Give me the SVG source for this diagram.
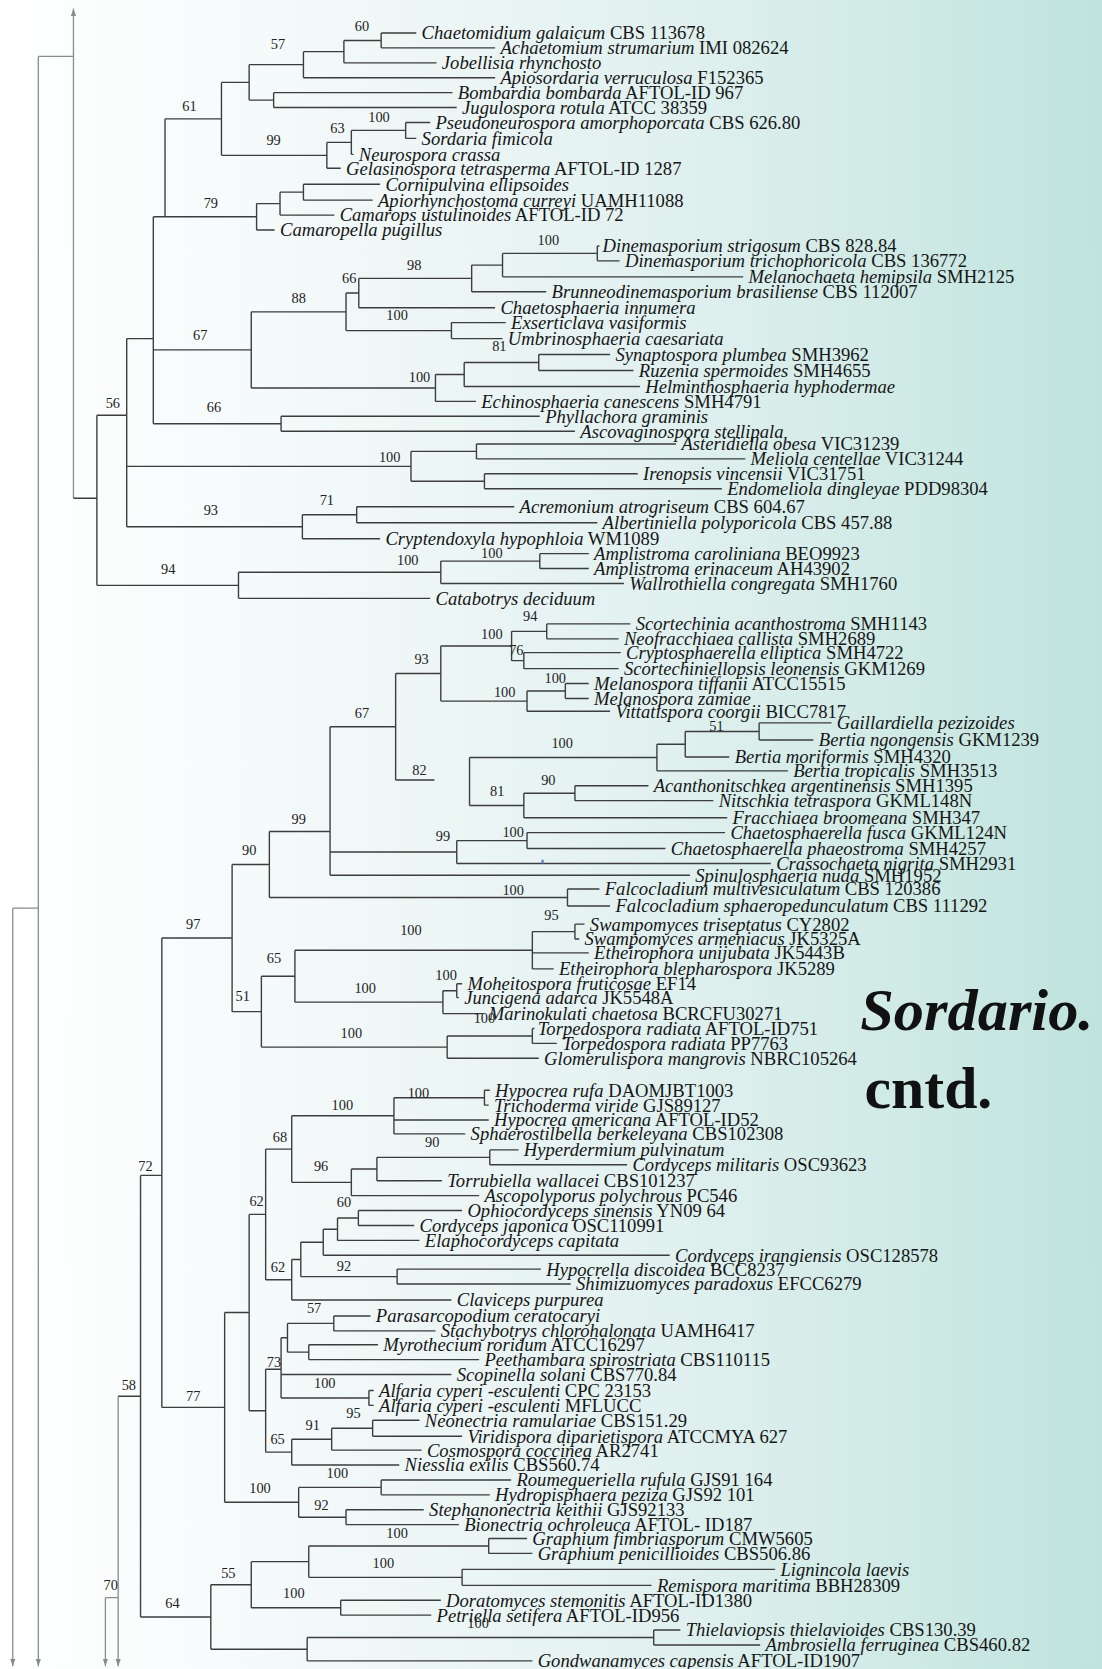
<svg xmlns="http://www.w3.org/2000/svg" width="1102" height="1669" viewBox="0 0 1102 1669">
<defs>
<linearGradient id="bg" x1="0" y1="0" x2="1" y2="0">
<stop offset="0" stop-color="#ffffff"/>
<stop offset="0.28" stop-color="#f3f9f9"/>
<stop offset="0.6" stop-color="#e1f1ef"/>
<stop offset="0.85" stop-color="#cde9e4"/>
<stop offset="1" stop-color="#bfe3dd"/>
</linearGradient>
<marker id="ah" viewBox="0 0 10 10" refX="10" refY="5" markerWidth="7" markerHeight="9" markerUnits="userSpaceOnUse" orient="auto">
<path d="M0,1.5 L10,5 L0,8.5 Z" fill="#8a8a8a"/>
</marker>
<style>
.br{fill:none;stroke:#3d3d3d;stroke-width:1.3}
.tr{fill:none;stroke:#8a8a8a;stroke-width:1.2}
.t{font-family:"Liberation Serif","Times New Roman",serif;font-size:17.5px;fill:#161616}
.i{font-style:italic}
.s{font-family:"Liberation Serif","Times New Roman",serif;font-size:13.5px;fill:#222;text-anchor:middle}
.big{font-family:"Liberation Serif","Times New Roman",serif;font-size:55px;font-weight:bold;fill:#111}
</style>
</defs>
<rect x="0" y="0" width="1102" height="1669" fill="url(#bg)"/>
<g transform="scale(1.0647)">
<g id="connectors">
<path class="tr" d="M69,468V8" marker-end="url(#ah)"/>
<path class="tr" d="M36,53H69M36,53V1565" marker-end="url(#ah)"/>
<path class="tr" d="M12,853H36M12,853V1565" marker-end="url(#ah)"/>
<path class="tr" d="M111,1311.4V1565" marker-end="url(#ah)"/>
<path class="tr" d="M99,1500.6H111M99,1500.6V1565" marker-end="url(#ah)"/>
<path class="br" d="M69,468H91M91,390V549.75M91,390H119M119,318V494.75M119,318H144M144,203.6V398M144,203.6H241M155,111.6V203.6
M155,111.6H208M208,77.4V145.9M208,77.4H234M234,60.75V94M234,60.75H285M285,48.5V73M285,48.5H323M323,38V59M323,38H358M358,31V45
M234,94H257M257,87V101M208,145.9H307M307,133.75V158M307,133.75H330M330,122.5V145M330,122.5H381M381,115V130
M241,191.25V216M241,191.25H263M263,180.5V202M263,180.5H285M285,173V188
M144,328.6H236M236,292.9V364.4M236,292.9H325M325,275.25V310.5M325,275.25H337M337,261.5V289M337,261.5H443M443,249V274M443,249H472M472,238V260M472,238H561M561,231V245
M325,310.5H424M424,303V318M236,364.4H409M409,351.75V377M409,351.75H436M436,340.5V363M436,340.5H506M506,333V348
M144,398H264M264,391V405M119,438H386M386,424V452M386,424H447.5M447.5,417V431M386,452H455M455,445V459
M119,494.75H284M284,483.5V506M284,483.5H335M335,476V491M91,549.75H224M224,537.5V562M224,537.5H414M414,527V548M414,527H507M507,520V534"/>
<path class="br" d="M132,1104H152M152,881V1321.9M152,881H218M218,812V950.2M218,812H253M253,781V843M253,781H310M310,682.6V822
M310,682.6H371.6M371.6,632.6V732.6M371.6,732.6H408M371.6,632.6H414M414,606.75V658.5M414,606.75H480.5M480.5,593V620.5M480.5,593H513.5M513.5,586V600M480.5,620.5H492M492,613V628
M414,658.5H495M495,649V668M495,649H531M531,642V656
M441,711.5V756.5M441,711.5H617M617,699V724M617,699H643.6M643.6,687V711M643.6,687H713M713,679V695M441,756.5H492M492,745V768M492,745H540M540,738V752
M310,800.25H429M429,789.5V811M429,789.5H495M495,782V797M253,843H533M533,835V851
M218,950.2H245.5M245.5,916.9V983.5M245.5,916.9H277M277,892.5V941.25M277,892.5H500M500,875V910M500,875H540M540,868V882
M277,941.25H416M416,930.5V952M416,930.5H429M429,924V937M245.5,983.5H420M420,973V994M420,973H500M500,966V980"/>
<path class="br" d="M152,1321.9H211M211,1232.8V1411M211,1232.8H234M234,1140.6V1325M234,1140.6H249.5M249.5,1079.25V1202
M249.5,1079.25H274M274,1048V1110.5M274,1048H370M370,1031V1065M370,1031H455M455,1024V1038M274,1110.5H330M330,1098V1123M330,1098H354M354,1087V1109M354,1087H460M460,1080V1094
M249.5,1202H274M274,1182.9V1221M274,1182.9H282.5M282.5,1166.75V1199M282.5,1166.75H303.6M303.6,1154.5V1179M303.6,1154.5H317M317,1144V1165M317,1144H336.6M336.6,1137V1151M282.5,1199H373M373,1192V1206
M234,1325H249.5M249.5,1286V1363.9M249.5,1286H264M264,1256.5V1313M264,1256.5H270M270,1243V1270M270,1243H313.5M313.5,1236V1250M270,1270H290M290,1263V1277M264,1313H346.5M346.5,1306V1320
M249.5,1363.9H274M274,1351.75V1376M274,1351.75H311.5M311.5,1341.5V1362M311.5,1341.5H350M350,1334V1349
M211,1411H280.5M280.5,1397V1425M280.5,1397H358M358,1390V1404M280.5,1425H325M325,1418V1432
M111,1311.4H132M132,1104V1518.7M132,1518.7H198M198,1488.4V1549M198,1488.4H236M236,1466.75V1510M236,1466.75H290M290,1452V1481.5M290,1452H459M459,1445V1459M290,1481.5H434M434,1474V1489M236,1510H320M320,1503V1517M198,1549H288.5M288.5,1538V1560M288.5,1538H614M614,1531V1545"/>
<path class="br" d="M358,31H391M358,45H465M323,59H410M285,73H465M257,87H425M257,101H429M381,115H404M381,130H391M330,145H332M307,158H320M285,173H357M285,188H350M263,202H314M241,216H258
M561,231H563M561,245H582M472,260H698M443,274H513M337,289H465M424,303H475M424,318H472M506,333H573M506,348H595M436,363H601M409,377H447M264,391H507M264,405H540
M447.5,417H635M447.5,431H700M455,445H599M455,459H678M335,476H483M335,491H561M284,506H357M507,520H553M507,534H553M414,548H586M224,562H404
M513.5,586H592M513.5,600H581M492,613H583M492,628H581M531,642H553M531,656H553M495,668H573M713,679H781M713,695H764M643.6,711H685M617,724H740M540,738H609M540,752H670M492,768H683
M495,782H681M495,797H625M429,811H724M310,822H648M533,835H563M533,851H573M540,868H549M540,882H544M500,895H553M500,910H520M429,924H434M429,937H431M416,952H454M500,966H502M500,980H523M420,994H506
M455,1024H460M455,1038H459M370,1052H459M370,1065H437M460,1080H487M460,1094H589M354,1109H415M330,1123H450M336.6,1137H434M336.6,1151H389M317,1165H394M303.6,1179H629M373,1192H508M373,1206H536M274,1221H424
M313.5,1236H348M313.5,1250H409M290,1263H355M290,1277H450M264,1291H424M346.5,1306H351M346.5,1320H351M350,1334H394M350,1349H434M311.5,1362H396M274,1376H375M358,1390H480M358,1404H460M325,1418H398M325,1432H431
M459,1445H495M459,1459H500M434,1474H728M434,1489H612M320,1503H414M320,1517H405M614,1531H639M614,1545H714M288.5,1560H500"/>
<rect x="508.5" y="807.5" width="2.2" height="3.5" fill="#5b7fd6"/>
</g>
<g id="leaves">
<g id="n1"><text class="t" x="396" y="37"><tspan class="i">Chaetomidium galaicum</tspan> CBS 113678</text></g>
<g id="n2"><text class="t" x="470" y="51"><tspan class="i">Achaetomium strumarium</tspan> IMI 082624</text></g>
<g id="n3"><text class="t" x="415" y="65"><tspan class="i">Jobellisia rhynchosto</tspan></text></g>
<g id="n4"><text class="t" x="470" y="79"><tspan class="i">Apiosordaria verruculosa</tspan> F152365</text></g>
<g id="n5"><text class="t" x="430" y="93"><tspan class="i">Bombardia bombarda</tspan> AFTOL-ID 967</text></g>
<g id="n6"><text class="t" x="434" y="107"><tspan class="i">Jugulospora rotula</tspan> ATCC 38359</text></g>
<g id="n7"><text class="t" x="409" y="121"><tspan class="i">Pseudoneurospora amorphoporcata</tspan> CBS 626.80</text></g>
<g id="n8"><text class="t" x="396" y="136"><tspan class="i">Sordaria fimicola</tspan></text></g>
<g id="n9"><text class="t" x="337" y="151"><tspan class="i">Neurospora crassa</tspan></text></g>
<g id="n10"><text class="t" x="325" y="164"><tspan class="i">Gelasinospora tetrasperma</tspan> AFTOL-ID 1287</text></g>
<g id="n11"><text class="t" x="362" y="179"><tspan class="i">Cornipulvina ellipsoides</tspan></text></g>
<g id="n12"><text class="t" x="355" y="194"><tspan class="i">Apiorhynchostoma curreyi</tspan> UAMH11088</text></g>
<g id="n13"><text class="t" x="319" y="208"><tspan class="i">Camarops ustulinoides</tspan> AFTOL-ID 72</text></g>
<g id="n14"><text class="t" x="263" y="222"><tspan class="i">Camaropella pugillus</tspan></text></g>
<g id="n15"><text class="t" x="566" y="237"><tspan class="i">Dinemasporium strigosum</tspan> CBS 828.84</text></g>
<g id="n16"><text class="t" x="587" y="251"><tspan class="i">Dinemasporium trichophoricola</tspan> CBS 136772</text></g>
<g id="n17"><text class="t" x="703" y="266"><tspan class="i">Melanochaeta hemipsila</tspan> SMH2125</text></g>
<g id="n18"><text class="t" x="518" y="280"><tspan class="i">Brunneodinemasporium brasiliense</tspan> CBS 112007</text></g>
<g id="n19"><text class="t" x="470" y="295"><tspan class="i">Chaetosphaeria innumera</tspan></text></g>
<g id="n20"><text class="t" x="480" y="309"><tspan class="i">Exserticlava vasiformis</tspan></text></g>
<g id="n21"><text class="t" x="477" y="324"><tspan class="i">Umbrinosphaeria caesariata</tspan></text></g>
<g id="n22"><text class="t" x="578" y="339"><tspan class="i">Synaptospora plumbea</tspan> SMH3962</text></g>
<g id="n23"><text class="t" x="600" y="354"><tspan class="i">Ruzenia spermoides</tspan> SMH4655</text></g>
<g id="n24"><text class="t" x="606" y="369"><tspan class="i">Helminthosphaeria hyphodermae</tspan></text></g>
<g id="n25"><text class="t" x="452" y="383"><tspan class="i">Echinosphaeria canescens</tspan> SMH4791</text></g>
<g id="n26"><text class="t" x="512" y="397"><tspan class="i">Phyllachora graminis</tspan></text></g>
<g id="n27"><text class="t" x="545" y="411"><tspan class="i">Ascovaginospora stellipala</tspan></text></g>
<g id="n28"><text class="t" x="640" y="423"><tspan class="i">Asteridiella obesa</tspan> VIC31239</text></g>
<g id="n29"><text class="t" x="705" y="437"><tspan class="i">Meliola centellae</tspan> VIC31244</text></g>
<g id="n30"><text class="t" x="604" y="451"><tspan class="i">Irenopsis vincensii</tspan> VIC31751</text></g>
<g id="n31"><text class="t" x="683" y="465"><tspan class="i">Endomeliola dingleyae</tspan> PDD98304</text></g>
<g id="n32"><text class="t" x="488" y="482"><tspan class="i">Acremonium atrogriseum</tspan> CBS 604.67</text></g>
<g id="n33"><text class="t" x="566" y="497"><tspan class="i">Albertiniella polyporicola</tspan> CBS 457.88</text></g>
<g id="n34"><text class="t" x="362" y="512"><tspan class="i">Cryptendoxyla hypophloia</tspan> WM1089</text></g>
<g id="n35"><text class="t" x="558" y="526"><tspan class="i">Amplistroma caroliniana</tspan> BEO9923</text></g>
<g id="n36"><text class="t" x="558" y="540"><tspan class="i">Amplistroma erinaceum</tspan> AH43902</text></g>
<g id="n37"><text class="t" x="591" y="554"><tspan class="i">Wallrothiella congregata</tspan> SMH1760</text></g>
<g id="n38"><text class="t" x="409" y="568"><tspan class="i">Catabotrys deciduum</tspan></text></g>
<g id="n39"><text class="t" x="597" y="592"><tspan class="i">Scortechinia acanthostroma</tspan> SMH1143</text></g>
<g id="n40"><text class="t" x="586" y="606"><tspan class="i">Neofracchiaea callista</tspan> SMH2689</text></g>
<g id="n41"><text class="t" x="588" y="619"><tspan class="i">Cryptosphaerella elliptica</tspan> SMH4722</text></g>
<g id="n42"><text class="t" x="586" y="634"><tspan class="i">Scortechiniellopsis leonensis</tspan> GKM1269</text></g>
<g id="n43"><text class="t" x="558" y="648"><tspan class="i">Melanospora tiffanii</tspan> ATCC15515</text></g>
<g id="n44"><text class="t" x="558" y="662"><tspan class="i">Melanospora zamiae</tspan></text></g>
<g id="n45"><text class="t" x="578" y="674"><tspan class="i">Vittatispora coorgii</tspan> BICC7817</text></g>
<g id="n46"><text class="t" x="786" y="685"><tspan class="i">Gaillardiella pezizoides</tspan></text></g>
<g id="n47"><text class="t" x="769" y="701"><tspan class="i">Bertia ngongensis</tspan> GKM1239</text></g>
<g id="n48"><text class="t" x="690" y="717"><tspan class="i">Bertia moriformis</tspan> SMH4320</text></g>
<g id="n49"><text class="t" x="745" y="730"><tspan class="i">Bertia tropicalis</tspan> SMH3513</text></g>
<g id="n50"><text class="t" x="614" y="744"><tspan class="i">Acanthonitschkea argentinensis</tspan> SMH1395</text></g>
<g id="n51"><text class="t" x="675" y="758"><tspan class="i">Nitschkia tetraspora</tspan> GKML148N</text></g>
<g id="n52"><text class="t" x="688" y="774"><tspan class="i">Fracchiaea broomeana</tspan> SMH347</text></g>
<g id="n53"><text class="t" x="686" y="788"><tspan class="i">Chaetosphaerella fusca</tspan> GKML124N</text></g>
<g id="n54"><text class="t" x="630" y="803"><tspan class="i">Chaetosphaerella phaeostroma</tspan> SMH4257</text></g>
<g id="n55"><text class="t" x="729" y="817"><tspan class="i">Crassochaeta nigrita</tspan> SMH2931</text></g>
<g id="n56"><text class="t" x="653" y="828"><tspan class="i">Spinulosphaeria nuda</tspan> SMH1952</text></g>
<g id="n57"><text class="t" x="568" y="841"><tspan class="i">Falcocladium multivesiculatum</tspan> CBS 120386</text></g>
<g id="n58"><text class="t" x="578" y="857"><tspan class="i">Falcocladium sphaeropedunculatum</tspan> CBS 111292</text></g>
<g id="n59"><text class="t" x="554" y="874"><tspan class="i">Swampomyces triseptatus</tspan> CY2802</text></g>
<g id="n60"><text class="t" x="549" y="888"><tspan class="i">Swampomyces armeniacus</tspan> JK5325A</text></g>
<g id="n61"><text class="t" x="558" y="901"><tspan class="i">Etheirophora unijubata</tspan>  JK5443B</text></g>
<g id="n62"><text class="t" x="525" y="916"><tspan class="i">Etheirophora blepharospora</tspan> JK5289</text></g>
<g id="n63"><text class="t" x="439" y="930"><tspan class="i">Moheitospora fruticosae</tspan> EF14</text></g>
<g id="n64"><text class="t" x="436" y="943"><tspan class="i">Juncigena adarca</tspan> JK5548A</text></g>
<g id="n65"><text class="t" x="459" y="958"><tspan class="i">Marinokulati chaetosa</tspan> BCRCFU30271</text></g>
<g id="n66"><text class="t" x="505" y="972"><tspan class="i">Torpedospora radiata</tspan> AFTOL-ID751</text></g>
<g id="n67"><text class="t" x="528" y="986"><tspan class="i">Torpedospora radiata</tspan> PP7763</text></g>
<g id="n68"><text class="t" x="511" y="1000"><tspan class="i">Glomerulispora mangrovis</tspan> NBRC105264</text></g>
<g id="n69"><text class="t" x="465" y="1030"><tspan class="i">Hypocrea rufa</tspan> DAOMJBT1003</text></g>
<g id="n70"><text class="t" x="464" y="1044"><tspan class="i">Trichoderma viride</tspan> GJS89127</text></g>
<g id="n71"><text class="t" x="464" y="1058"><tspan class="i">Hypocrea americana</tspan> AFTOL-ID52</text></g>
<g id="n72"><text class="t" x="442" y="1071"><tspan class="i">Sphaerostilbella berkeleyana</tspan> CBS102308</text></g>
<g id="n73"><text class="t" x="492" y="1086"><tspan class="i">Hyperdermium pulvinatum</tspan></text></g>
<g id="n74"><text class="t" x="594" y="1100"><tspan class="i">Cordyceps militaris</tspan> OSC93623</text></g>
<g id="n75"><text class="t" x="420" y="1115"><tspan class="i">Torrubiella wallacei</tspan> CBS101237</text></g>
<g id="n76"><text class="t" x="455" y="1129"><tspan class="i">Ascopolyporus polychrous</tspan> PC546</text></g>
<g id="n77"><text class="t" x="439" y="1143"><tspan class="i">Ophiocordyceps sinensis</tspan> YN09 64</text></g>
<g id="n78"><text class="t" x="394" y="1157"><tspan class="i">Cordyceps japonica</tspan> OSC110991</text></g>
<g id="n79"><text class="t" x="399" y="1171"><tspan class="i">Elaphocordyceps capitata</tspan></text></g>
<g id="n80"><text class="t" x="634" y="1185"><tspan class="i">Cordyceps irangiensis</tspan> OSC128578</text></g>
<g id="n81"><text class="t" x="513" y="1198"><tspan class="i">Hypocrella discoidea</tspan> BCC8237</text></g>
<g id="n82"><text class="t" x="541" y="1212"><tspan class="i">Shimizuomyces paradoxus</tspan> EFCC6279</text></g>
<g id="n83"><text class="t" x="429" y="1227"><tspan class="i">Claviceps purpurea</tspan></text></g>
<g id="n84"><text class="t" x="353" y="1242"><tspan class="i">Parasarcopodium ceratocaryi</tspan></text></g>
<g id="n85"><text class="t" x="414" y="1256"><tspan class="i">Stachybotrys chlorohalonata</tspan> UAMH6417</text></g>
<g id="n86"><text class="t" x="360" y="1269"><tspan class="i">Myrothecium roridum</tspan> ATCC16297</text></g>
<g id="n87"><text class="t" x="455" y="1283"><tspan class="i">Peethambara spirostriata</tspan> CBS110115</text></g>
<g id="n88"><text class="t" x="429" y="1297"><tspan class="i">Scopinella solani</tspan> CBS770.84</text></g>
<g id="n89"><text class="t" x="356" y="1312"><tspan class="i">Alfaria cyperi  -esculenti</tspan> CPC  23153</text></g>
<g id="n90"><text class="t" x="356" y="1326"><tspan class="i">Alfaria cyperi  -esculenti</tspan> MFLUCC</text></g>
<g id="n91"><text class="t" x="399" y="1340"><tspan class="i">Neonectria ramulariae</tspan> CBS151.29</text></g>
<g id="n92"><text class="t" x="439" y="1355"><tspan class="i">Viridispora diparietispora</tspan> ATCCMYA 627</text></g>
<g id="n93"><text class="t" x="401" y="1368"><tspan class="i">Cosmospora coccinea</tspan> AR2741</text></g>
<g id="n94"><text class="t" x="380" y="1382"><tspan class="i">Niesslia exilis</tspan> CBS560.74</text></g>
<g id="n95"><text class="t" x="485" y="1396"><tspan class="i">Roumegueriella rufula</tspan> GJS91 164</text></g>
<g id="n96"><text class="t" x="465" y="1410"><tspan class="i">Hydropisphaera peziza</tspan> GJS92 101</text></g>
<g id="n97"><text class="t" x="403" y="1424"><tspan class="i">Stephanonectria keithii</tspan> GJS92133</text></g>
<g id="n98"><text class="t" x="436" y="1438"><tspan class="i">Bionectria ochroleuca</tspan> AFTOL- ID187</text></g>
<g id="n99"><text class="t" x="500" y="1451"><tspan class="i">Graphium fimbriasporum</tspan> CMW5605</text></g>
<g id="n100"><text class="t" x="505" y="1465"><tspan class="i">Graphium penicillioides</tspan> CBS506.86</text></g>
<g id="n101"><text class="t" x="733" y="1480"><tspan class="i">Lignincola laevis</tspan></text></g>
<g id="n102"><text class="t" x="617" y="1495"><tspan class="i">Remispora maritima</tspan> BBH28309</text></g>
<g id="n103"><text class="t" x="419" y="1509"><tspan class="i">Doratomyces stemonitis</tspan> AFTOL-ID1380</text></g>
<g id="n104"><text class="t" x="410" y="1523"><tspan class="i">Petriella setifera</tspan> AFTOL-ID956</text></g>
<g id="n105"><text class="t" x="644" y="1537"><tspan class="i">Thielaviopsis thielavioides</tspan> CBS130.39</text></g>
<g id="n106"><text class="t" x="719" y="1551"><tspan class="i">Ambrosiella ferruginea</tspan> CBS460.82</text></g>
<g id="n107"><text class="t" x="505" y="1566"><tspan class="i">Gondwanamyces capensis</tspan> AFTOL-ID1907</text></g>
</g>
<g id="supports">
<text class="s" x="340" y="29.5">60</text>
<text class="s" x="261" y="46">57</text>
<text class="s" x="178" y="104.5">61</text>
<text class="s" x="356" y="114.5">100</text>
<text class="s" x="317" y="125">63</text>
<text class="s" x="257" y="136">99</text>
<text class="s" x="198" y="195.5">79</text>
<text class="s" x="515" y="230">100</text>
<text class="s" x="389" y="253.5">98</text>
<text class="s" x="328" y="266">66</text>
<text class="s" x="280.5" y="284.5">88</text>
<text class="s" x="373" y="300.5">100</text>
<text class="s" x="188" y="319">67</text>
<text class="s" x="469" y="330">81</text>
<text class="s" x="394" y="358.5">100</text>
<text class="s" x="106" y="383.5">56</text>
<text class="s" x="201" y="386.5">66</text>
<text class="s" x="366" y="433.5">100</text>
<text class="s" x="307" y="474">71</text>
<text class="s" x="198" y="483.5">93</text>
<text class="s" x="462" y="524">100</text>
<text class="s" x="383" y="530.5">100</text>
<text class="s" x="158" y="539.5">94</text>
<text class="s" x="498" y="583.5">94</text>
<text class="s" x="462" y="600">100</text>
<text class="s" x="485" y="615.5">76</text>
<text class="s" x="396" y="623.5">93</text>
<text class="s" x="521.5" y="641.5">100</text>
<text class="s" x="474" y="655">100</text>
<text class="s" x="340" y="674">67</text>
<text class="s" x="673" y="686.5">51</text>
<text class="s" x="528" y="703">100</text>
<text class="s" x="394" y="728">82</text>
<text class="s" x="515" y="737">90</text>
<text class="s" x="467" y="748">81</text>
<text class="s" x="280.5" y="773.5">99</text>
<text class="s" x="482" y="786">100</text>
<text class="s" x="416" y="789.5">99</text>
<text class="s" x="234" y="803">90</text>
<text class="s" x="482" y="840.5">100</text>
<text class="s" x="518" y="864">95</text>
<text class="s" x="181.5" y="873">97</text>
<text class="s" x="386" y="878">100</text>
<text class="s" x="257.4" y="904.5">65</text>
<text class="s" x="419" y="920">100</text>
<text class="s" x="343" y="932.5">100</text>
<text class="s" x="228" y="940.5">51</text>
<text class="s" x="455" y="961">100</text>
<text class="s" x="330" y="975">100</text>
<text class="s" x="393" y="1031">100</text>
<text class="s" x="321.5" y="1043">100</text>
<text class="s" x="263" y="1072.5">68</text>
<text class="s" x="406" y="1077.5">90</text>
<text class="s" x="301.6" y="1100">96</text>
<text class="s" x="136.6" y="1100">72</text>
<text class="s" x="241" y="1133">62</text>
<text class="s" x="323" y="1134">60</text>
<text class="s" x="323" y="1194">92</text>
<text class="s" x="261" y="1194.5">62</text>
<text class="s" x="295" y="1233">57</text>
<text class="s" x="257.4" y="1284">73</text>
<text class="s" x="305" y="1303.5">100</text>
<text class="s" x="121" y="1306">58</text>
<text class="s" x="181.5" y="1315.5">77</text>
<text class="s" x="332" y="1332">95</text>
<text class="s" x="293.7" y="1343">91</text>
<text class="s" x="260.7" y="1356.5">65</text>
<text class="s" x="316.8" y="1388.5">100</text>
<text class="s" x="244.2" y="1402.5">100</text>
<text class="s" x="302" y="1418">92</text>
<text class="s" x="373" y="1444.5">100</text>
<text class="s" x="360" y="1472.5">100</text>
<text class="s" x="214.5" y="1482">55</text>
<text class="s" x="104" y="1493">70</text>
<text class="s" x="276" y="1501">100</text>
<text class="s" x="162" y="1510.5">64</text>
<text class="s" x="449" y="1529">100</text>
</g>
<g id="title">
<text class="big" x="808" y="967" font-style="italic" textLength="219" lengthAdjust="spacingAndGlyphs">Sordario.</text>
<text class="big" x="812" y="1041" textLength="120" lengthAdjust="spacingAndGlyphs">cntd.</text>
</g>
</g>
</svg>
